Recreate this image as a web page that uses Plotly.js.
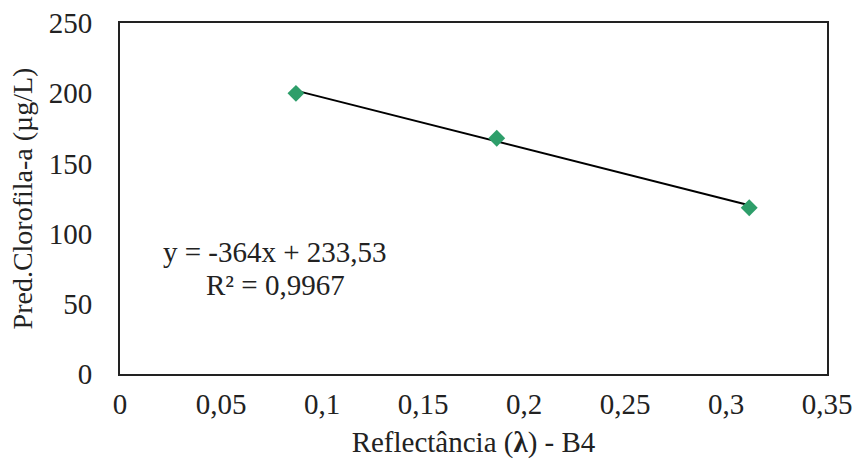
<!DOCTYPE html>
<html>
<head>
<meta charset="utf-8">
<script src="https://cdn.plot.ly/plotly-3.0.1.min.js"></script>
<style>html,body{margin:0;padding:0;background:#fff;}#chart{width:854px;height:459px;}</style>
</head>
<body>
<div id="chart"></div>
<script>
// Data
const reflectance = [0.0871, 0.1865, 0.3115];
const clorofila = [199.9, 167.9, 118.4];
const xTicks = [0, 0.05, 0.1, 0.15, 0.2, 0.25, 0.3, 0.35];
const yTicks = [0, 50, 100, 150, 200, 250];
const slope = -364;
const intercept = 233.53;
const r2Label = "0,9967";

const xMin = Math.min(...reflectance), xMax = Math.max(...reflectance);
const trendX = [xMin, xMax];
const trendY = trendX.map(x => slope * x + intercept);

const font = {family: 'Liberation Serif', color: '#222', size: 29};
const yTitleFont = {family: 'Liberation Serif', color: '#222', size: 28};

const traces = [
  {x: trendX, y: trendY, mode: 'lines', line: {color: '#000', width: 2}, hoverinfo: 'skip', showlegend: false},
  {x: reflectance, y: clorofila, mode: 'markers', marker: {symbol: 'diamond', size: 13, color: '#2E9E6A'}, showlegend: false}
];

const layout = {
  width: 854, height: 459,
  margin: {l: 120, r: 27, t: 23, b: 85},
  paper_bgcolor: '#fff', plot_bgcolor: '#fff',
  separators: ',.',
  font: font,
  showlegend: false,
  xaxis: {
    range: [0, 0.35], tickvals: xTicks, showgrid: false, zeroline: false,
    showline: true, mirror: true, linecolor: '#222', linewidth: 2,
    ticks: '', ticklabelstandoff: 3, tickfont: font,
    title: {text: 'Reflectância (<b>λ</b>) - B4', font: font, standoff: 15}
  },
  yaxis: {
    range: [0, 250], tickvals: yTicks, showgrid: false, zeroline: false,
    showline: true, mirror: true, linecolor: '#222', linewidth: 2,
    ticks: '', ticklabelstandoff: 20, tickfont: font,
    title: {text: 'Pred.Clorofila-a (µg/L)', font: yTitleFont, standoff: 8}
  },
  annotations: [
    {xref: 'x', yref: 'y', x: 0.0768, y: 86.9,
     text: 'y = -' + Math.abs(slope) + 'x + ' + String(intercept).replace('.', ','),
     showarrow: false, align: 'center', font: font},
    {xref: 'x', yref: 'y', x: 0.0768, y: 63.4,
     text: 'R² = ' + r2Label,
     showarrow: false, align: 'center', font: font}
  ]
};

Plotly.newPlot('chart', traces, layout, {displayModeBar: false, staticPlot: true});
</script>
</body>
</html>
